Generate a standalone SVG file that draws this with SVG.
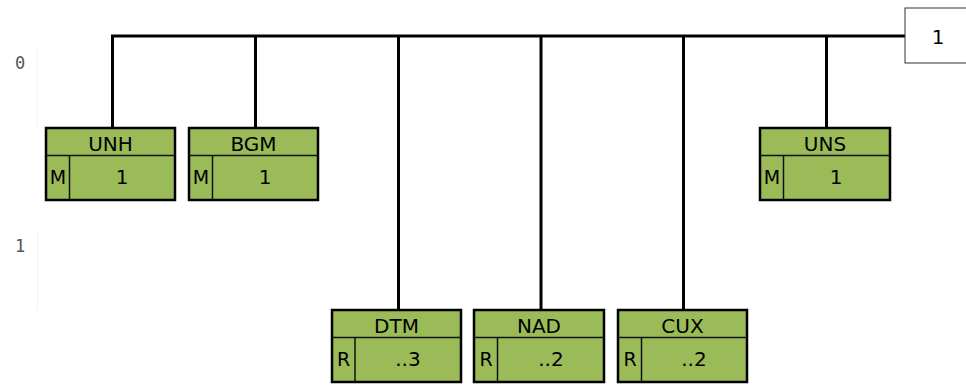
<svg xmlns="http://www.w3.org/2000/svg" width="966" height="385" viewBox="0 0 966 385">
<style>
.seg rect{fill:#9BBB59;stroke:#000;stroke-width:2.5}
.seg line{stroke:#111;stroke-width:1.5}
.t{font-family:"DejaVu Sans",Verdana,sans-serif;font-size:20px;fill:#000;text-anchor:middle}
.s{font-family:"DejaVu Sans",Verdana,sans-serif;font-size:19px;fill:#000;text-anchor:middle}
.lvl{font-family:"DejaVu Sans Mono",monospace;font-size:17px;fill:#555}
.conn line{stroke:#000;stroke-width:3}
</style>
<rect width="966" height="385" fill="#fff"/>
<g id="levels">
<line x1="37" y1="50" x2="37" y2="127" stroke="#f2f2f2" stroke-width="1"/>
<line x1="37.5" y1="233" x2="37.5" y2="310" stroke="#f2f2f2" stroke-width="1"/>
<text class="lvl" x="20" y="69" text-anchor="middle">0</text>
<text class="lvl" x="20" y="252" text-anchor="middle">1</text>
</g>
<g id="connectors" class="conn">
<line x1="111" y1="36" x2="906" y2="36"/>
<line x1="112.5" y1="36" x2="112.5" y2="128"/>
<line x1="255.5" y1="36" x2="255.5" y2="128"/>
<line x1="398.5" y1="36" x2="398.5" y2="310"/>
<line x1="541" y1="36" x2="541" y2="310"/>
<line x1="683.5" y1="36" x2="683.5" y2="310"/>
<line x1="826.5" y1="36" x2="826.5" y2="128"/>
</g>
<g id="group1">
<rect x="905" y="8" width="70" height="55" fill="#fff" stroke="#333" stroke-width="1"/>
<text class="t" x="938" y="44">1</text>
</g>
<g id="UNH" class="seg">
<rect x="46" y="128" width="129" height="72"/>
<line x1="46" y1="155.5" x2="175" y2="155.5"/>
<line x1="69.5" y1="155.5" x2="69.5" y2="200"/>
<text class="t" x="110.5" y="151">UNH</text>
<text class="s" x="58" y="184">M</text>
<text class="t" x="122" y="184">1</text>
</g>
<g id="BGM" class="seg">
<rect x="189" y="128" width="129" height="72"/>
<line x1="189" y1="155.5" x2="318" y2="155.5"/>
<line x1="212.5" y1="155.5" x2="212.5" y2="200"/>
<text class="t" x="253.5" y="151">BGM</text>
<text class="s" x="201" y="184">M</text>
<text class="t" x="265" y="184">1</text>
</g>
<g id="UNS" class="seg">
<rect x="760" y="128" width="130" height="72"/>
<line x1="760" y1="155.5" x2="890" y2="155.5"/>
<line x1="783.5" y1="155.5" x2="783.5" y2="200"/>
<text class="t" x="825" y="151">UNS</text>
<text class="s" x="772" y="184">M</text>
<text class="t" x="836" y="184">1</text>
</g>
<g id="DTM" class="seg">
<rect x="332" y="310" width="129" height="72"/>
<line x1="332" y1="337.5" x2="461" y2="337.5"/>
<line x1="355" y1="337.5" x2="355" y2="382"/>
<text class="t" x="396.5" y="333">DTM</text>
<text class="s" x="343.5" y="366">R</text>
<text class="t" x="408" y="366">..3</text>
</g>
<g id="NAD" class="seg">
<rect x="474" y="310" width="130" height="72"/>
<line x1="474" y1="337.5" x2="604" y2="337.5"/>
<line x1="497.5" y1="337.5" x2="497.5" y2="382"/>
<text class="t" x="539" y="333">NAD</text>
<text class="s" x="486" y="366">R</text>
<text class="t" x="551" y="366">..2</text>
</g>
<g id="CUX" class="seg">
<rect x="618" y="310" width="129" height="72"/>
<line x1="618" y1="337.5" x2="747" y2="337.5"/>
<line x1="641.5" y1="337.5" x2="641.5" y2="382"/>
<text class="t" x="682.5" y="333">CUX</text>
<text class="s" x="630" y="366">R</text>
<text class="t" x="694" y="366">..2</text>
</g>
</svg>
